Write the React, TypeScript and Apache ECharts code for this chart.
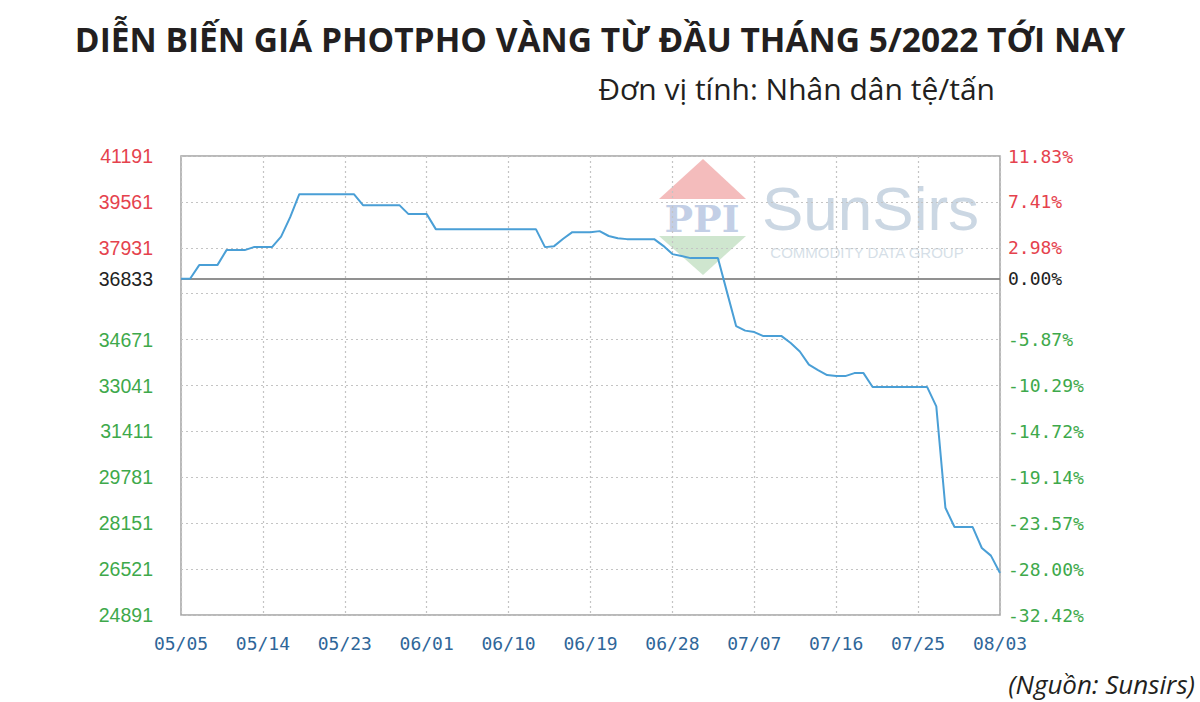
import React, { useEffect, useRef } from "react";
import * as echarts from "echarts";

const TITLE = "DIỄN BIẾN GIÁ PHOTPHO VÀNG TỪ ĐẦU THÁNG 5/2022 TỚI NAY";
const SUBTITLE = "Đơn vị tính: Nhân dân tệ/tấn";
const SOURCE = "(Nguồn: Sunsirs)";

const START_DATE = "2022-05-05";
const DAY_COUNT = 91;

// Price (CNY/tonne), one value per day from 05/05 to 08/03
const prices = [
  36833, 36833, 37316, 37316, 37316, 37849, 37849, 37849, 37955, 37955,
  37955, 38330, 39020, 39837, 39837, 39837, 39837, 39837, 39837, 39837,
  39446, 39446, 39446, 39446, 39446, 39127, 39127, 39127, 38594, 38594,
  38594, 38594, 38594, 38594, 38594, 38594, 38594, 38594, 38594, 38594,
  37955, 37990, 38250, 38487, 38487, 38487, 38523, 38350, 38270, 38239,
  38239, 38239, 38239, 38000, 37707, 37640, 37565, 37565, 37565, 37565,
  36357, 35151, 34990, 34937, 34795, 34795, 34795, 34550, 34250, 33780,
  33589, 33410, 33375, 33375, 33482, 33482, 32985, 32985, 32985, 32985,
  32985, 32985, 32985, 32300, 28700, 28015, 28015, 28015, 27270, 27000,
  26382,
];

const BASE_PRICE = 36833;
const AXIS_MIN = 24891;
const AXIS_MAX = 41191;
const AXIS_STEP = 1630;

// Tick labels, bottom to top (empty = no label at that grid line)
const leftTickLabels = ["24891", "26521", "28151", "29781", "31411", "33041", "34671", "", "37931", "39561", "41191"];
const rightTickLabels = ["-32.42%", "-28.00%", "-23.57%", "-19.14%", "-14.72%", "-10.29%", "-5.87%", "", "2.98%", "7.41%", "11.83%"];
const BASE_LEFT_LABEL = "36833";
const BASE_RIGHT_LABEL = "0.00%";

function buildDates(start: string, n: number): string[] {
  const out: string[] = [];
  const d0 = new Date(start + "T00:00:00Z");
  for (let i = 0; i < n; i++) {
    const d = new Date(d0.getTime() + i * 86400000);
    const mm = String(d.getUTCMonth() + 1).padStart(2, "0");
    const dd = String(d.getUTCDate()).padStart(2, "0");
    out.push(mm + "/" + dd);
  }
  return out;
}

const dates = buildDates(START_DATE, DAY_COUNT);

const RED = "#e5424d";
const GREEN = "#3ea94b";

function tickIndex(v: number): number {
  return Math.round((v - AXIS_MIN) / AXIS_STEP);
}

export default function App() {
  const ref = useRef<HTMLDivElement>(null);
  useEffect(() => {
    if (!ref.current) return;
    const chart = echarts.init(ref.current, null, { renderer: "svg" });
    chart.setOption({
      animation: false,
      backgroundColor: "#ffffff",
      grid: {
        left: 181,
        right: 200,
        top: 156,
        bottom: 87,
        show: true,
        borderColor: "#a3a3a3",
        borderWidth: 1.5,
        containLabel: false,
      },
      graphic: [
        {
          type: "text",
          x: 600,
          y: 39,
          z: 10,
          style: {
            text: TITLE,
            fill: "#231f20",
            fontFamily: "Open Sans",
            fontWeight: "bold",
            fontSize: 33.5,
            align: "center",
            verticalAlign: "middle",
          },
        },
        {
          type: "text",
          x: 995,
          y: 88,
          z: 10,
          style: {
            text: SUBTITLE,
            fill: "#231f20",
            fontFamily: "Open Sans",
            fontSize: 30,
            align: "right",
            verticalAlign: "middle",
          },
        },
        {
          type: "text",
          x: 1195,
          y: 684,
          z: 10,
          style: {
            text: SOURCE,
            fill: "#231f20",
            fontFamily: "Open Sans",
            fontStyle: "italic",
            fontSize: 26,
            align: "right",
            verticalAlign: "middle",
          },
        },
        // watermark
        {
          type: "group",
          z: 0,
          silent: true,
          children: [
            {
              type: "polygon",
              shape: { points: [[703, 159], [746, 199], [659, 199]] },
              style: { fill: "#f4bcbc" },
            },
            {
              type: "text",
              x: 702,
              y: 218,
              style: {
                text: "PPI",
                fill: "#c3cfe6",
                fontFamily: "DejaVu Serif",
                fontWeight: "bold",
                fontSize: 38,
                align: "center",
                verticalAlign: "middle",
              },
            },
            {
              type: "polygon",
              shape: { points: [[659, 236], [746, 236], [703, 275]] },
              style: { fill: "#cfe6cf" },
            },
            {
              type: "text",
              x: 762,
              y: 208,
              style: {
                text: "SunSirs",
                fill: "#cbd7e3",
                fontFamily: "Liberation Sans",
                fontSize: 62,
                align: "left",
                verticalAlign: "middle",
              },
            },
            {
              type: "text",
              x: 867,
              y: 252,
              style: {
                text: "COMMODITY DATA GROUP",
                fill: "#d6dfe8",
                fontFamily: "Liberation Sans",
                fontSize: 15,
                align: "center",
                verticalAlign: "middle",
              },
            },
          ],
        },
      ],
      xAxis: {
        type: "category",
        data: dates,
        boundaryGap: false,
        axisLine: { show: false },
        axisTick: { show: false },
        axisLabel: {
          interval: 8,
          color: "#2f6699",
          fontFamily: "DejaVu Sans Mono",
          fontSize: 18,
          margin: 19,
        },
        splitLine: {
          show: true,
          interval: 8,
          lineStyle: { color: "#c4c4c4", type: [2, 3], width: 1.2 },
        },
      },
      yAxis: [
        {
          type: "value",
          position: "left",
          min: AXIS_MIN,
          max: AXIS_MAX,
          interval: AXIS_STEP,
          axisLine: { show: false },
          axisTick: { show: false },
          axisLabel: {
            margin: 28,
            fontFamily: "Liberation Sans",
            fontSize: 19.5,
            formatter: (v: number) => {
              const s = leftTickLabels[tickIndex(v)] || "";
              if (!s) return "";
              return v > BASE_PRICE ? "{r|" + s + "}" : "{g|" + s + "}";
            },
            rich: {
              r: { color: RED, fontFamily: "Liberation Sans", fontSize: 19.5 },
              g: { color: GREEN, fontFamily: "Liberation Sans", fontSize: 19.5 },
            },
          },
          splitLine: {
            show: true,
            lineStyle: { color: "#c4c4c4", type: [2, 3], width: 1.2 },
          },
        },
        {
          type: "value",
          position: "right",
          min: AXIS_MIN,
          max: AXIS_MAX,
          interval: AXIS_STEP,
          axisLine: { show: false },
          axisTick: { show: false },
          splitLine: { show: false },
          axisLabel: {
            margin: 8,
            fontFamily: "DejaVu Sans Mono",
            fontSize: 18,
            formatter: (v: number) => {
              const s = rightTickLabels[tickIndex(v)] || "";
              if (!s) return "";
              return v > BASE_PRICE ? "{r|" + s + "}" : "{g|" + s + "}";
            },
            rich: {
              r: { color: RED, fontFamily: "DejaVu Sans Mono", fontSize: 18 },
              g: { color: GREEN, fontFamily: "DejaVu Sans Mono", fontSize: 18 },
            },
          },
        },
      ],
      series: [
        {
          type: "line",
          data: prices,
          yAxisIndex: 0,
          symbol: "none",
          z: 5,
          lineStyle: { color: "#4a9fd6", width: 2 },
          markLine: {
            silent: true,
            symbol: ["none", "none"],
            lineStyle: { color: "#8a8a8a", type: "solid", width: 1.5 },
            data: [
              {
                yAxis: BASE_PRICE,
                label: {
                  show: true,
                  position: "start",
                  distance: 28,
                  formatter: BASE_LEFT_LABEL,
                  color: "#222",
                  fontFamily: "Liberation Sans",
                  fontSize: 19.5,
                },
              },
              {
                yAxis: BASE_PRICE,
                label: {
                  show: true,
                  position: "end",
                  distance: 8,
                  formatter: BASE_RIGHT_LABEL,
                  color: "#222",
                  fontFamily: "DejaVu Sans Mono",
                  fontSize: 18,
                },
              },
            ],
          },
        },
      ],
    });
    return () => chart.dispose();
  }, []);
  return (
    <div
      ref={ref}
      style={{ position: "fixed", left: 0, top: 0, width: 1200, height: 702 }}
    />
  );
}
